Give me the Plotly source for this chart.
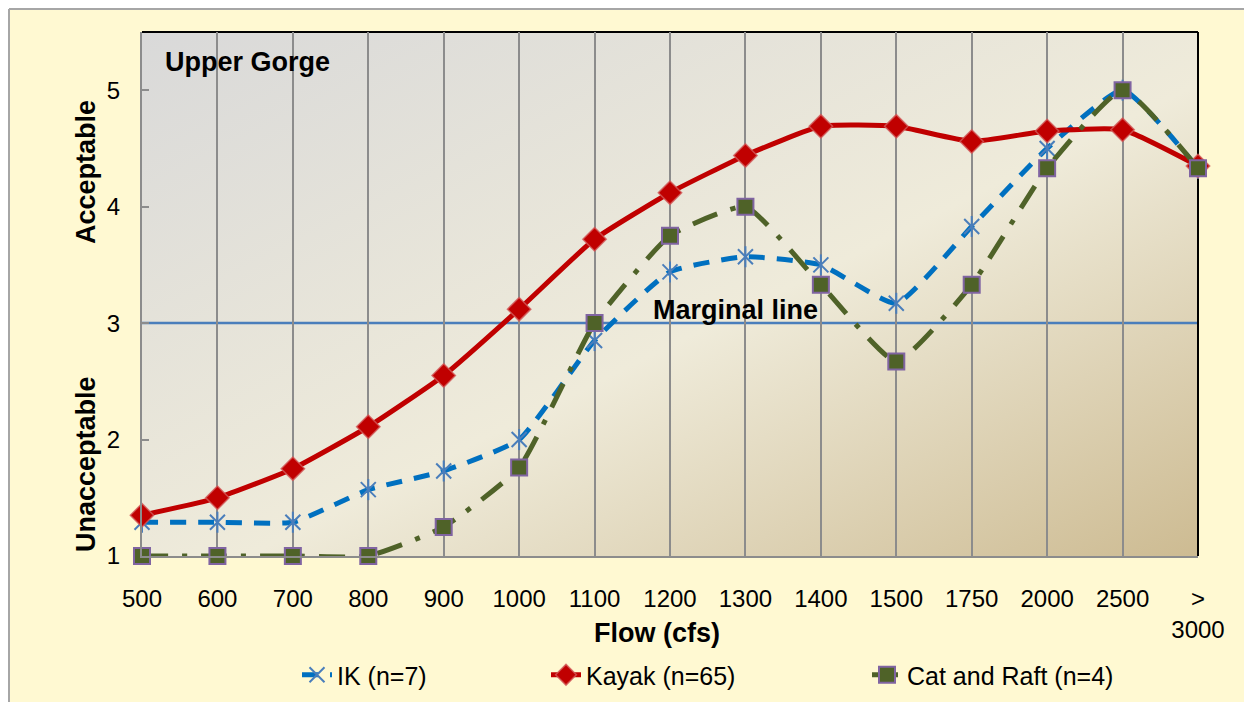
import base64
import plotly.graph_objects as go

# Flow categories (cfs) and mean acceptability ratings per craft type
flows = ["500", "600", "700", "800", "900", "1000", "1100", "1200", "1300",
         "1400", "1500", "1750", "2000", "2500", "><br>3000"]
ik = [1.29, 1.29, 1.29, 1.57, 1.73, 2.00, 2.85, 3.44, 3.57, 3.50, 3.17, 3.83, 4.50, 5.00, 4.33]
kayak = [1.35, 1.50, 1.75, 2.11, 2.55, 3.12, 3.72, 4.12, 4.44, 4.69, 4.69, 4.56, 4.65, 4.66, 4.35]
cat_raft = [1.00, 1.00, 1.00, 1.00, 1.25, 1.76, 3.00, 3.75, 4.00, 3.33, 2.67, 3.33, 4.33, 5.00, 4.33]
marginal = 3
y_ticks = [1, 2, 3, 4, 5]

xpos = list(range(len(flows)))

W, H = 1244, 702
ML, MR, MT, MB = 142, 46, 32, 146
PW, PH = W - ML - MR, H - MT - MB


def px_x(p):
    return (p - ML) / PW


def px_y(p):
    return (H - MB - p) / PH


FONT = "Liberation Sans, Arial, sans-serif"
YELLOW = "#FFF9D2"
SMOOTH = 0.45

fig = go.Figure()

fig.add_trace(go.Scatter(
    x=xpos, y=ik, name="IK (n=7)", mode="lines+markers", legend="legend", cliponaxis=False,
    line=dict(color="#0070C0", width=5, dash="16px,12px", shape="spline", smoothing=SMOOTH),
    marker=dict(symbol="x-thin-open", size=15, color="#4A7EBB",
                line=dict(color="#4A7EBB", width=2)),
))
fig.add_trace(go.Scatter(
    x=xpos, y=ik, mode="markers", showlegend=False, hoverinfo="skip", cliponaxis=False,
    marker=dict(symbol="line-ns-open", size=15, color="#4A7EBB",
                line=dict(color="#4A7EBB", width=2)),
))
fig.add_trace(go.Scatter(
    x=xpos, y=kayak, name="Kayak (n=65)", mode="lines+markers", legend="legend2", cliponaxis=False,
    line=dict(color="#C00000", width=5, shape="spline", smoothing=SMOOTH),
    marker=dict(symbol="diamond", size=18, color="#C00000",
                line=dict(color="rgba(210,90,90,0.8)", width=1.5)),
))
fig.add_trace(go.Scatter(
    x=xpos, y=cat_raft, name="Cat and Raft (n=4)", mode="lines+markers", legend="legend3",
    cliponaxis=False,
    line=dict(color="#4F6228", width=5, dash="26px,14px,5px,14px", shape="spline", smoothing=SMOOTH),
    marker=dict(symbol="square", size=16, color="#4F6228",
                line=dict(color="#8064A2", width=2)),
))

# diagonal gradient behind the plot area
svg = ('<svg xmlns="http://www.w3.org/2000/svg" width="200" height="100" viewBox="0 0 200 100" '
       'preserveAspectRatio="none"><defs><linearGradient id="g" x1="0" y1="0" x2="1" y2="1">'
       '<stop offset="0" stop-color="#D9D9D9"/><stop offset="0.55" stop-color="#EFEBDA"/>'
       '<stop offset="1" stop-color="#CDBB92"/></linearGradient></defs>'
       '<rect width="200" height="100" fill="url(#g)"/></svg>')
img_src = "data:image/svg+xml;base64," + base64.b64encode(svg.encode()).decode()

shapes = [
    # white margin outside the chart frame
    dict(type="rect", xref="paper", yref="paper", x0=px_x(-5), x1=px_x(W + 5),
         y0=px_y(9), y1=px_y(-5), fillcolor="white", line=dict(width=0), layer="below"),
    dict(type="rect", xref="paper", yref="paper", x0=px_x(-5), x1=px_x(9),
         y0=px_y(H + 5), y1=px_y(-5), fillcolor="white", line=dict(width=0), layer="below"),
    dict(type="line", xref="paper", yref="paper", x0=px_x(9), x1=px_x(W + 5),
         y0=px_y(9), y1=px_y(9), line=dict(color="#A6A6A6", width=2)),
    dict(type="line", xref="paper", yref="paper", x0=px_x(9), x1=px_x(9),
         y0=px_y(9), y1=px_y(H + 5), line=dict(color="#A6A6A6", width=2)),
    # marginal reference line
    dict(type="line", xref="paper", yref="y", x0=0, x1=1, y0=marginal, y1=marginal,
         line=dict(color="#4A7EBB", width=2.5), layer="between"),
    # dark top and right frame
    dict(type="line", xref="paper", yref="paper", x0=0, x1=1, y0=1, y1=1,
         line=dict(color="black", width=2), layer="between"),
    dict(type="line", xref="paper", yref="paper", x0=1, x1=1, y0=0, y1=1,
         line=dict(color="black", width=2), layer="between"),
]

annotations = [
    dict(text="<b>Upper Gorge</b>", xref="paper", yref="paper", x=px_x(163), y=px_y(62),
         xanchor="left", yanchor="middle", showarrow=False, font=dict(size=27, color="black")),
    dict(text="<b>Marginal line</b>", xref="x", yref="y", x=7.87, y=marginal + 0.11,
         xanchor="center", yanchor="middle", showarrow=False, font=dict(size=27, color="black")),
    dict(text="<b>Acceptable</b>", xref="paper", yref="paper", x=px_x(86), y=px_y(172),
         textangle=-90, xanchor="center", yanchor="middle", showarrow=False,
         font=dict(size=27, color="black")),
    dict(text="<b>Unacceptable</b>", xref="paper", yref="paper", x=px_x(86), y=px_y(464),
         textangle=-90, xanchor="center", yanchor="middle", showarrow=False,
         font=dict(size=27, color="black")),
    dict(text="<b>Flow (cfs)</b>", xref="paper", yref="paper", x=px_x(657), y=px_y(633),
         xanchor="center", yanchor="middle", showarrow=False, font=dict(size=27, color="black")),
]


def legend_at(text_left):
    return dict(orientation="h", x=px_x(text_left - 40), y=px_y(675), xanchor="left",
                yanchor="middle", font=dict(size=25, family=FONT),
                bgcolor="rgba(0,0,0,0)")


fig.update_layout(
    width=W, height=H, autosize=False,
    margin=dict(l=ML, r=MR, t=MT, b=MB, autoexpand=False),
    paper_bgcolor=YELLOW, plot_bgcolor="rgba(0,0,0,0)",
    font=dict(family=FONT, color="black"),
    images=[dict(source=img_src, xref="paper", yref="paper", x=0, y=1, sizex=1, sizey=1,
                 xanchor="left", yanchor="top", sizing="stretch", layer="below")],
    shapes=shapes,
    annotations=annotations,
    showlegend=True,
    legend=legend_at(337),
    legend2=legend_at(586),
    legend3=legend_at(907),
    xaxis=dict(range=[0, len(flows) - 1], tickmode="array", tickvals=xpos, ticktext=flows,
               showgrid=True, gridcolor="#8C8C8C", gridwidth=2, zeroline=False,
               showline=True, linecolor="#8C8C8C", linewidth=2, ticks="",
               tickfont=dict(size=24), ticklabelstandoff=20, automargin=False),
    yaxis=dict(range=[1, 5.5], tickmode="array", tickvals=y_ticks, showgrid=False,
               zeroline=False, showline=True, linecolor="#8C8C8C", linewidth=2,
               ticks="inside", ticklen=7, tickcolor="#8C8C8C", tickwidth=2,
               tickfont=dict(size=24), ticklabelstandoff=15, automargin=False),
)

fig.write_html("out.html")
